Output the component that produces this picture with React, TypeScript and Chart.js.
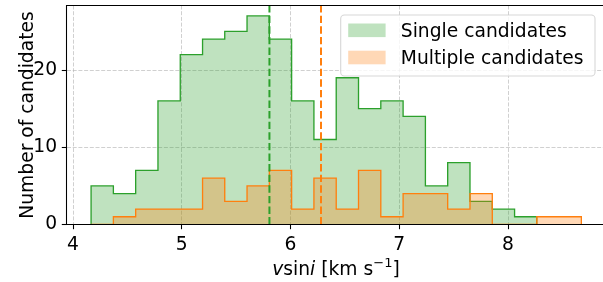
import React, { useEffect, useRef } from "react";
import { Chart, registerables } from "chart.js";

Chart.register(...registerables);

// Shared histogram bin edges (km/s)
const BIN_EDGES = [
  4.166, 4.371, 4.576, 4.781, 4.986, 5.191, 5.395, 5.6, 5.805, 6.01, 6.215, 6.42,
  6.625, 6.83, 7.035, 7.24, 7.445, 7.65, 7.855, 8.06, 8.264, 8.469, 8.674,
];
// Counts of single candidates (first 20 bins)
const SINGLE_COUNTS = [5, 4, 7, 16, 22, 24, 25, 27, 24, 16, 11, 19, 15, 16, 14, 5, 8, 3, 2, 1];
// Counts of multiple candidates (all 22 bins)
const MULTIPLE_COUNTS = [0, 1, 2, 2, 2, 6, 3, 5, 7, 2, 6, 2, 7, 1, 4, 4, 2, 4, 0, 0, 1, 1];
const SINGLE_MEDIAN = 5.806;
const MULTIPLE_MEDIAN = 6.28;
const X_TICKS = [4, 5, 6, 7, 8];
const Y_TICKS = [0, 10, 20];
const X_MIN = 3.94;
const X_MAX = 8.873;
const Y_MIN = 0;
const Y_MAX = 28.35;
const LEGEND_LABELS = ["Single candidates", "Multiple candidates"];
const Y_TITLE = "Number of candidates";

const GREEN = "#2ca02c";
const ORANGE = "#ff7f0e";
const GREEN_FILL = "rgba(44,160,44,0.3)";
const ORANGE_FILL = "rgba(255,127,14,0.3)";
const FONT = "DejaVu Sans";
const FS = 18.7;

function histPoints(edges: number[], counts: number[]) {
  const pts: { x: number; y: number }[] = [{ x: edges[0], y: 0 }];
  counts.forEach((c, i) => pts.push({ x: edges[i], y: c }));
  const n = counts.length;
  pts.push({ x: edges[n], y: counts[n - 1] });
  pts.push({ x: edges[n], y: 0 });
  return pts;
}

const decorPlugin = {
  id: "decor",
  afterDraw(chart: any) {
    const ctx: CanvasRenderingContext2D = chart.ctx;
    const a = chart.chartArea;
    ctx.save();
    // spines
    ctx.strokeStyle = "#000";
    ctx.lineWidth = 1.07;
    ctx.setLineDash([]);
    ctx.beginPath();
    ctx.moveTo(chart.width + 2, a.top);
    ctx.lineTo(a.left, a.top);
    ctx.lineTo(a.left, a.bottom);
    ctx.lineTo(chart.width + 2, a.bottom);
    ctx.stroke();

    // legend
    const lx = 340.7, ly = 15, lw = 254.3, lh = 61, r = 3.7;
    ctx.beginPath();
    ctx.moveTo(lx + r, ly);
    ctx.lineTo(lx + lw - r, ly);
    ctx.arcTo(lx + lw, ly, lx + lw, ly + r, r);
    ctx.lineTo(lx + lw, ly + lh - r);
    ctx.arcTo(lx + lw, ly + lh, lx + lw - r, ly + lh, r);
    ctx.lineTo(lx + r, ly + lh);
    ctx.arcTo(lx, ly + lh, lx, ly + lh - r, r);
    ctx.lineTo(lx, ly + r);
    ctx.arcTo(lx, ly, lx + r, ly, r);
    ctx.closePath();
    ctx.fillStyle = "rgba(255,255,255,0.8)";
    ctx.fill();
    ctx.strokeStyle = "rgba(204,204,204,0.8)";
    ctx.lineWidth = 1.07;
    ctx.stroke();
    const fills = [GREEN_FILL, ORANGE_FILL];
    const centers = [30.3, 57.5];
    const baselines = [36.9, 64.1];
    ctx.font = `${FS}px "${FONT}"`;
    ctx.textBaseline = "alphabetic";
    ctx.textAlign = "left";
    LEGEND_LABELS.forEach((lab, i) => {
      ctx.fillStyle = fills[i];
      ctx.fillRect(348.2, centers[i] - 6.8, 37.4, 13.6);
      ctx.fillStyle = "#000";
      ctx.fillText(lab, 400.8, baselines[i]);
    });

    // y title
    ctx.save();
    ctx.translate(33, (a.top + a.bottom) / 2);
    ctx.rotate(-Math.PI / 2);
    ctx.textAlign = "center";
    ctx.textBaseline = "alphabetic";
    ctx.fillStyle = "#000";
    ctx.font = `${FS}px "${FONT}"`;
    ctx.fillText(Y_TITLE, 0, 0);
    ctx.restore();

    // x title: v sin i [km s^-1]
    const parts = [
      { t: "v", f: `italic ${FS}px "${FONT}"`, dy: 0 },
      { t: "sin", f: `${FS}px "${FONT}"`, dy: 0 },
      { t: "i", f: `italic ${FS}px "${FONT}"`, dy: 0 },
      { t: " [km s", f: `${FS}px "${FONT}"`, dy: 0 },
      { t: "\u22121", f: `${FS * 0.7}px "${FONT}"`, dy: -7.6 },
      { t: "]", f: `${FS}px "${FONT}"`, dy: 0 },
    ];
    let total = 0;
    const widths = parts.map((p) => {
      ctx.font = p.f;
      const w = ctx.measureText(p.t).width;
      total += w;
      return w;
    });
    let x = 336 - total / 2;
    ctx.textAlign = "left";
    parts.forEach((p, i) => {
      ctx.font = p.f;
      ctx.fillText(p.t, x, 274.5 + p.dy);
      x += widths[i];
    });
    ctx.restore();
  },
};

export default function App() {
  const ref = useRef<HTMLCanvasElement | null>(null);
  useEffect(() => {
    if (!ref.current) return;
    const gridCommon = {
      color: "rgba(176,176,176,0.75)",
      lineWidth: 0.8,
      borderDash: [4, 1.7],
      tickColor: "#000",
      tickWidth: 1.07,
      tickLength: 4.7,
      tickBorderDash: [],
      drawTicks: true,
      drawOnChartArea: true,
    };
    const tickFont = { family: FONT, size: FS };
    const chart = new Chart(ref.current, {
      type: "line",
      data: {
        datasets: [
          {
            label: LEGEND_LABELS[0],
            data: histPoints(BIN_EDGES, SINGLE_COUNTS),
            borderColor: GREEN,
            backgroundColor: GREEN_FILL,
            borderWidth: 1.33,
            fill: "origin",
            stepped: "before",
            pointRadius: 0,
            order: 4,
          },
          {
            label: LEGEND_LABELS[1],
            data: histPoints(BIN_EDGES, MULTIPLE_COUNTS),
            borderColor: ORANGE,
            backgroundColor: ORANGE_FILL,
            borderWidth: 1.33,
            fill: "origin",
            stepped: "before",
            pointRadius: 0,
            order: 3,
          },
          {
            label: "single median",
            data: [
              { x: SINGLE_MEDIAN, y: Y_MIN },
              { x: SINGLE_MEDIAN, y: Y_MAX },
            ],
            borderColor: GREEN,
            borderWidth: 2,
            borderDash: [7.4, 3.2],
            fill: false,
            pointRadius: 0,
            order: 2,
          },
          {
            label: "multiple median",
            data: [
              { x: MULTIPLE_MEDIAN, y: Y_MIN },
              { x: MULTIPLE_MEDIAN, y: Y_MAX },
            ],
            borderColor: ORANGE,
            borderWidth: 2,
            borderDash: [7.4, 3.2],
            fill: false,
            pointRadius: 0,
            order: 1,
          },
        ],
      },
      options: {
        responsive: false,
        animation: false,
        devicePixelRatio: 1,
        layout: { padding: { top: 5.5, left: 0, right: 0, bottom: 0 } },
        plugins: { legend: { display: false }, tooltip: { enabled: false } },
        scales: {
          x: {
            type: "linear",
            min: X_MIN,
            max: X_MAX,
            afterFit: (s: any) => {
              s.height = 57.5;
              s.paddingLeft = 0;
              s.paddingRight = 0;
              s.paddingTop = 0;
              s.paddingBottom = 0;
            },
            afterBuildTicks: (s: any) => {
              s.ticks = X_TICKS.map((v) => ({ value: v }));
            },
            grid: gridCommon,
            border: { display: false, dash: [4, 1.7] },
            ticks: {
              font: tickFont,
              color: "#000",
              padding: 4.7,
              maxRotation: 0,
              autoSkip: false,
              callback: (v: any) => String(v),
            },
          },
          y: {
            type: "linear",
            min: Y_MIN,
            max: Y_MAX,
            afterFit: (s: any) => {
              s.width = 66.5;
              s.paddingLeft = 0;
              s.paddingRight = 0;
              s.paddingTop = 0;
              s.paddingBottom = 0;
            },
            afterBuildTicks: (s: any) => {
              s.ticks = Y_TICKS.map((v) => ({ value: v }));
            },
            grid: gridCommon,
            border: { display: false, dash: [4, 1.7] },
            ticks: {
              font: tickFont,
              color: "#000",
              padding: 4.7,
              autoSkip: false,
              callback: (v: any) => String(v),
            },
          },
        },
      } as any,
      plugins: [decorPlugin],
    });
    return () => chart.destroy();
  }, []);
  return (
    <div style={{ position: "absolute", left: 0, top: 0, width: 603, height: 282, background: "#fff" }}>
      <canvas ref={ref} width={603} height={282} style={{ display: "block" }} />
    </div>
  );
}
